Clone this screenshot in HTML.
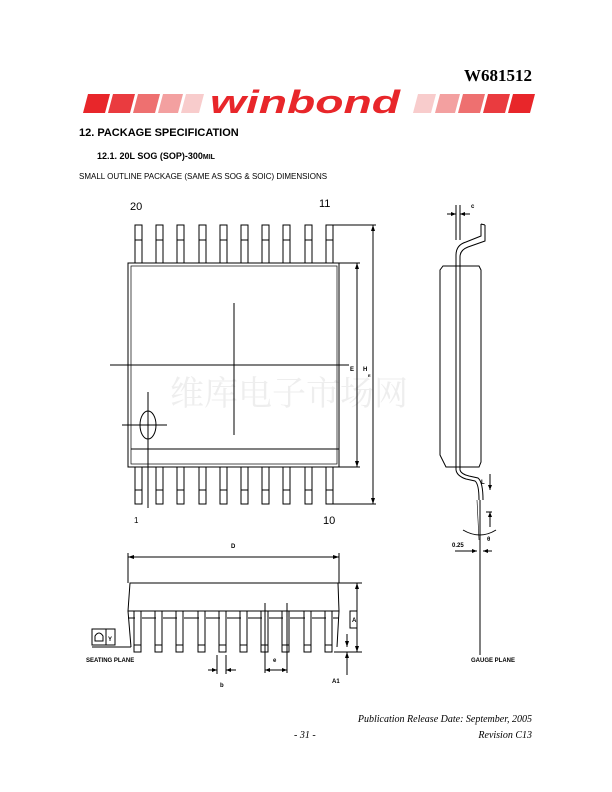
<!DOCTYPE html>
<html><head><meta charset="utf-8"><style>
body{margin:0;width:612px;height:792px;background:#fff;position:relative;overflow:hidden;font-family:"Liberation Sans",sans-serif}
.t{position:absolute;white-space:nowrap}
</style></head><body>
<div class="t" style="right:80px;top:66px;font:bold 17px 'Liberation Serif',serif">W681512</div>
<svg style="position:absolute;left:0;top:0" width="612" height="792" xmlns="http://www.w3.org/2000/svg">
<defs>
<g id="tpin"><rect x="0" y="0" width="7" height="38"/><line x1="0" y1="15" x2="7" y2="15"/></g>
<g id="bpin"><rect x="0" y="0" width="7" height="37"/><line x1="0" y1="23" x2="7" y2="23"/></g>
<g id="fpin"><rect x="-1" y="0" width="7" height="41"/><line x1="-1" y1="34" x2="6" y2="34"/></g>
</defs>
<g>
<polygon points="88,94 110,94 105,113 83,113" fill="#e8262a"/>
<polygon points="113,94 135,94 130,113 108,113" fill="#ea3b3f"/>
<polygon points="138,94 160,94 155,113 133,113" fill="#ee7070"/>
<polygon points="163,94 183,94 178,113 158,113" fill="#f3a0a0"/>
<polygon points="186,94 204,94 199,113 181,113" fill="#f8cccc"/>
<polygon points="418,94 436,94 431,113 413,113" fill="#f8cccc"/>
<polygon points="440,94 460,94 455,113 435,113" fill="#f3a0a0"/>
<polygon points="463,94 485,94 480,113 458,113" fill="#ee7070"/>
<polygon points="488,94 510,94 505,113 483,113" fill="#ea3b3f"/>
<polygon points="513,94 535,94 530,113 508,113" fill="#e8262a"/>
<text x="210" y="113" font-family="Liberation Sans,sans-serif" font-weight="bold" font-style="italic" font-size="32" fill="#e8262a" textLength="190" lengthAdjust="spacingAndGlyphs">winbond</text>
</g>
<text x="170" y="405" font-family="Liberation Serif,'Noto Serif CJK SC',serif" font-size="34" fill="#eeeeee">维库电子市场网</text>
<g stroke="#000" stroke-width="1" fill="#fff">
<use href="#tpin" x="135" y="225"/><use href="#tpin" x="156" y="225"/><use href="#tpin" x="177" y="225"/><use href="#tpin" x="199" y="225"/><use href="#tpin" x="220" y="225"/><use href="#tpin" x="241" y="225"/><use href="#tpin" x="262" y="225"/><use href="#tpin" x="283" y="225"/><use href="#tpin" x="305" y="225"/><use href="#tpin" x="326" y="225"/>
<use href="#bpin" x="135" y="467"/><use href="#bpin" x="156" y="467"/><use href="#bpin" x="177" y="467"/><use href="#bpin" x="199" y="467"/><use href="#bpin" x="220" y="467"/><use href="#bpin" x="241" y="467"/><use href="#bpin" x="262" y="467"/><use href="#bpin" x="283" y="467"/><use href="#bpin" x="305" y="467"/><use href="#bpin" x="326" y="467"/>
<use href="#fpin" x="135" y="611"/><use href="#fpin" x="156" y="611"/><use href="#fpin" x="177" y="611"/><use href="#fpin" x="199" y="611"/><use href="#fpin" x="220" y="611"/><use href="#fpin" x="241" y="611"/><use href="#fpin" x="262" y="611"/><use href="#fpin" x="283" y="611"/><use href="#fpin" x="305" y="611"/><use href="#fpin" x="326" y="611"/>
</g>
<g stroke="#000" stroke-width="1" fill="none">
<rect x="128" y="263" width="211" height="204"/>
<rect x="131" y="266" width="206" height="198" stroke-width="0.7"/>
<line x1="131" y1="449" x2="339" y2="449"/>
<line x1="110" y1="365" x2="349" y2="365"/>
<line x1="234" y1="303" x2="234" y2="435"/>
<ellipse cx="148" cy="425" rx="8" ry="14"/>
<line x1="122" y1="425" x2="167" y2="425"/>
<line x1="148" y1="392" x2="148" y2="508"/>
<line x1="339" y1="263" x2="360" y2="263"/><line x1="339" y1="467" x2="360" y2="467"/>
<line x1="357" y1="263" x2="357" y2="467"/>
<line x1="333" y1="225" x2="376" y2="225"/><line x1="333" y1="504" x2="376" y2="504"/>
<line x1="373" y1="225" x2="373" y2="504"/>
<path d="M443,266 L479,266 L481,270 L481,462 L479,467 L446,467 L440,455 L440,270 Z"/>
<path d="M456,470 L456,255 Q456,245 466,242 L481,236 L481,224 M460,470 L460,257 Q460,250 468,247 L485,241 L485,225 M481,224 L485,225"/>
<path d="M456,470 Q457,476 466,479 L475,481 Q479,484 479,500 M460,470 Q461,474 469,476 L478,478 Q483,482 483,500"/>
<line x1="480" y1="500" x2="480" y2="655"/>
<line x1="477" y1="500" x2="479" y2="540" stroke-width="0.6"/>
<line x1="456" y1="205" x2="456" y2="240"/><line x1="460" y1="205" x2="460" y2="240"/>
<line x1="447" y1="214" x2="456" y2="214"/><line x1="460" y1="214" x2="470" y2="214"/>
<line x1="490" y1="474" x2="490" y2="490"/>
<line x1="486" y1="512" x2="492" y2="512"/><line x1="490" y1="512" x2="490" y2="527"/>
<line x1="455" y1="551" x2="477" y2="551"/><line x1="483" y1="551" x2="492" y2="551"/>
<path d="M463,530 Q480,540 496,530"/>
<line x1="128" y1="557" x2="339" y2="557"/>
<line x1="128" y1="553" x2="128" y2="583"/><line x1="339" y1="553" x2="339" y2="583"/>
<path d="M130,583 L338,583 L339,611 L128,611 Z"/>
<path d="M128,611 L131,647 M339,611 L337,647"/>
<line x1="128" y1="618" x2="135" y2="618"/><line x1="142" y1="618" x2="156" y2="618"/><line x1="163" y1="618" x2="177" y2="618"/><line x1="184" y1="618" x2="199" y2="618"/><line x1="206" y1="618" x2="220" y2="618"/><line x1="227" y1="618" x2="241" y2="618"/><line x1="248" y1="618" x2="262" y2="618"/><line x1="269" y1="618" x2="283" y2="618"/><line x1="290" y1="618" x2="305" y2="618"/><line x1="312" y1="618" x2="326" y2="618"/><line x1="333" y1="618" x2="339" y2="618"/>
<line x1="92" y1="647" x2="131" y2="647"/>
<rect x="92" y="629" width="14" height="16"/><rect x="106" y="629" width="9" height="16"/>
<path d="M95,641 L95,636 Q99,630 103,636 L103,641 Z"/>
<line x1="337" y1="583" x2="362" y2="583"/><line x1="334" y1="652" x2="362" y2="652"/>
<line x1="357" y1="583" x2="357" y2="652"/>
<rect x="350" y="611" width="7" height="17"/>
<line x1="347" y1="634" x2="347" y2="647"/><line x1="347" y1="652" x2="347" y2="675"/>
<line x1="208" y1="670" x2="217" y2="670"/><line x1="226" y1="670" x2="236" y2="670"/>
<line x1="217" y1="655" x2="217" y2="674"/><line x1="226" y1="655" x2="226" y2="674"/>
<line x1="265" y1="603" x2="265" y2="673"/><line x1="287" y1="603" x2="287" y2="673"/>
<line x1="265" y1="670" x2="287" y2="670"/>
</g>
<g font-family="Liberation Sans,sans-serif" font-weight="bold" font-size="6" fill="#000">
<text x="350" y="371">E</text><text x="363" y="371">H</text><text x="368" y="377" font-size="4">E</text>
<text x="471" y="208">c</text><text x="481" y="484">L</text><text x="452" y="547">0.25</text>
<text x="487" y="541">θ</text>
<text x="231" y="548">D</text><text x="352" y="622">A</text><text x="108" y="641">Y</text>
<text x="86" y="662">SEATING PLANE</text><text x="220" y="687">b</text><text x="273" y="662">e</text>
<text x="332" y="683">A1</text><text x="471" y="662">GAUGE PLANE</text>
</g>
<g font-family="Liberation Sans,sans-serif" font-size="11" fill="#000">
<text x="130" y="210">20</text><text x="319" y="207">11</text><text x="134" y="523" font-size="8">1</text><text x="323" y="524">10</text>
</g>
<g fill="#000"><polygon points="357,263 355,269 359,269"/><polygon points="357,467 355,461 359,461"/>
<polygon points="373,225 371,231 375,231"/><polygon points="373,504 371,498 375,498"/>
<polygon points="128,557 134,555 134,559"/><polygon points="339,557 333,555 333,559"/>
<polygon points="357,583 355,589 359,589"/><polygon points="357,652 355,646 359,646"/>
<polygon points="347,647 345,641 349,641"/><polygon points="347,652 345,658 349,658"/>
<polygon points="456,214 451,212 451,216"/><polygon points="460,214 465,212 465,216"/>
<polygon points="217,670 212,668 212,672"/><polygon points="226,670 231,668 231,672"/>
<polygon points="265,670 270,668 270,672"/><polygon points="287,670 282,668 282,672"/>
<polygon points="477,551 472,549 472,553"/><polygon points="483,551 488,549 488,553"/>
<polygon points="490,490 488,485 492,485"/><polygon points="490,512 488,517 492,517"/></g>
</svg>
<div class="t" style="left:79px;top:127px;font-weight:bold;font-size:11px">12. PACKAGE SPECIFICATION</div>
<div class="t" style="left:97px;top:151px;font-weight:bold;font-size:9px">12.1. 20L SOG (SOP)-300<span style="font-size:7px">MIL</span></div>
<div class="t" style="left:79px;top:172px;font-size:8px">SMALL OUTLINE PACKAGE (SAME AS SOG &amp; SOIC) DIMENSIONS</div>
<div class="t" style="right:80px;top:714px;font:italic 10px 'Liberation Serif',serif">Publication Release Date: September, 2005</div>
<div class="t" style="left:294px;top:730px;font:italic 10px 'Liberation Serif',serif">- 31 -</div>
<div class="t" style="right:80px;top:730px;font:italic 10px 'Liberation Serif',serif">Revision C13</div>
</body></html>
